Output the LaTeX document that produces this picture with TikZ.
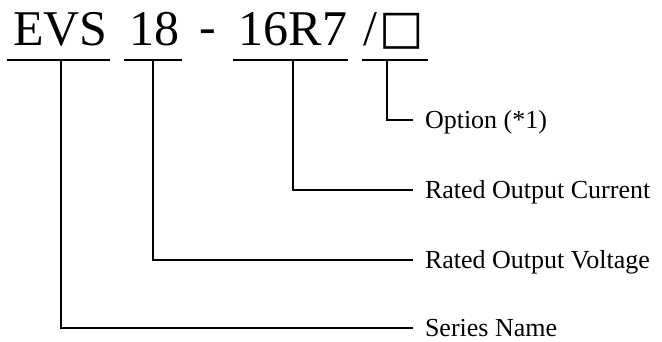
\documentclass[tikz,border=0pt]{standalone}
\usepackage{fontspec}
\setmainfont{Liberation Serif}
\newfontfamily\boxfont{DejaVu Sans}
\usetikzlibrary{positioning}
\tikzstyle{part} = [inner sep=0pt, outer sep=0pt, anchor=base,
font=\fontsize{50}{50}\selectfont]
\tikzstyle{lbl} = [inner xsep=12pt, inner ysep=0pt, outer sep=0pt,
anchor=west,
text height=17pt, text depth=0pt,
font=\fontsize{26}{26}\selectfont]
\tikzstyle{line} = [draw, line width=1.2pt]

\begin{document}
\begin{tikzpicture}[x=1pt, y=-1pt, node distance=70pt]
\useasboundingbox (0,0) rectangle (662,341);

% model number
\node [part] (evs) at (60.5,45) {EVS};
\node [part] (volt) at (154,45) {18};
\node [part] (dash) at (208,45) {\raisebox{2pt}{-}};
\node [part] (cur) at (293,45) {16R7};
\node [part] (slash) at (370.5,45) {/};
\node [part, font=\boxfont\fontsize{47}{47}\selectfont] (opt) at (402,43) {□};

% underlines
\path [line] (7,60) -- (110,60);
\path [line] (124,60) -- (182,60);
\path [line] (233,60) -- (348,60);
\path [line] (362,60) -- (428,60);
\coordinate (uevs) at (61,60);
\coordinate (uvolt) at (153,60);
\coordinate (ucur) at (293,60);
\coordinate (uopt) at (387,60);

% labels
\node [lbl] (lopt) at (413,120) {Option (*1)};
\node [lbl, below=of lopt.west, anchor=west] (lcur) {Rated Output Current};
\node [lbl, below=of lcur.west, anchor=west] (lvolt) {Rated Output Voltage};
\node [lbl, below=68pt of lvolt.west, anchor=west] (lser) {Series Name};

\path [line] (uopt) |- (lopt.west);
\path [line] (ucur) |- (lcur.west);
\path [line] (uvolt) |- (lvolt.west);
\path [line] (uevs) |- (lser.west);

\end{tikzpicture}
\end{document}
